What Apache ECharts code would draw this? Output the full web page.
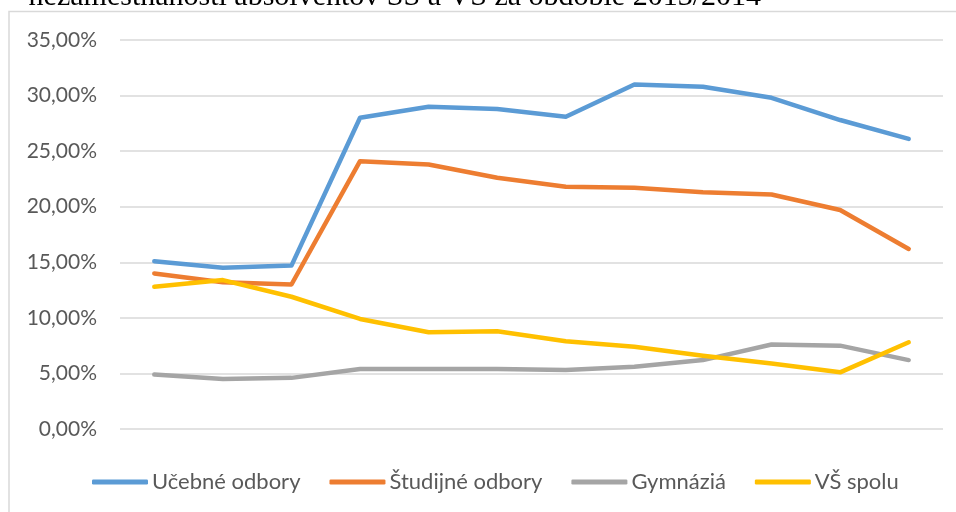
<!DOCTYPE html>
<html>
<head>
    <meta charset="utf-8">
    <title>Miera nezamestnanosti absolventov</title>
    <script src="https://cdn.jsdelivr.net/npm/echarts@6/dist/echarts.min.js"></script>
    <style>
        html, body { margin: 0; padding: 0; background: #fff; }
        #chart { width: 956px; height: 512px; }
    </style>
</head>
<body>
<div id="chart"></div>
<script>
    // obdobia (na osi X nie su popisy)
    var categories = ['1', '2', '3', '4', '5', '6', '7', '8', '9', '10', '11', '12'];
    var seriesNames = ['Učebné odbory', 'Študijné odbory', 'Gymnáziá', 'VŠ spolu'];
    // hodnoty v %
    var ucebne = [15.1, 14.5, 14.7, 28.0, 29.0, 28.8, 28.1, 31.0, 30.8, 29.8, 27.8, 26.1];
    var studijne = [14.0, 13.2, 13.0, 24.1, 23.8, 22.6, 21.8, 21.7, 21.3, 21.1, 19.7, 16.2];
    var gymnazia = [4.9, 4.5, 4.6, 5.4, 5.4, 5.4, 5.3, 5.6, 6.2, 7.6, 7.5, 6.2];
    var vsSpolu = [12.8, 13.4, 11.9, 9.9, 8.7, 8.8, 7.9, 7.4, 6.6, 5.9, 5.1, 7.8];
    var colors = ['#5b9bd5', '#ed7d31', '#a5a5a5', '#ffc000'];

    var myChart = echarts.init(document.getElementById('chart'));

    function makeLine(name, data, color) {
        return {
            name: name,
            type: 'line',
            data: data,
            symbol: 'none',
            smooth: false,
            lineStyle: { color: color, width: 4.5, cap: 'round', join: 'round' },
            itemStyle: { color: color }
        };
    }

    myChart.setOption({
        animation: false,
        graphic: [
            {
                type: 'rect',
                shape: { x: 9, y: 11.5, width: 1000, height: 600 },
                style: { fill: 'none', stroke: '#d9d9d9', lineWidth: 1.5 },
                silent: true
            },
            {
                type: 'text',
                x: 761,
                y: 12,
                style: {
                    text: 'nezamestnanosti absolventov SŠ a VŠ za obdobie 2013/2014',
                    font: '30px "Liberation Serif", "Times New Roman", serif',
                    fill: '#000',
                    align: 'right',
                    verticalAlign: 'bottom'
                },
                silent: true
            }
        ],
        grid: {
            left: 120,
            right: 13,
            top: 40,
            bottom: 83
        },
        legend: {
            data: seriesNames,
            left: 87,
            top: 466,
            icon: 'roundRect',
            itemWidth: 56,
            itemHeight: 5,
            itemGap: 29,
            textStyle: {
                fontFamily: 'Lato',
                fontSize: 22,
                color: '#595959',
                padding: [0, 0, 0, -1]
            }
        },
        xAxis: {
            type: 'category',
            data: categories,
            boundaryGap: true,
            axisLine: { show: false },
            axisTick: { show: false },
            axisLabel: { show: false }
        },
        yAxis: {
            type: 'value',
            min: 0,
            max: 35,
            interval: 5,
            axisLine: { show: false },
            axisTick: { show: false },
            axisLabel: {
                margin: 23,
                fontFamily: 'Lato',
                fontSize: 21,
                color: '#595959',
                formatter: function (v) {
                    return v.toFixed(2).replace('.', ',') + '%';
                }
            },
            splitLine: { lineStyle: { color: '#d9d9d9', width: 1.5 } }
        },
        series: [
            makeLine(seriesNames[0], ucebne, colors[0]),
            makeLine(seriesNames[1], studijne, colors[1]),
            makeLine(seriesNames[2], gymnazia, colors[2]),
            makeLine(seriesNames[3], vsSpolu, colors[3])
        ]
    });
</script>
</body>
</html>
